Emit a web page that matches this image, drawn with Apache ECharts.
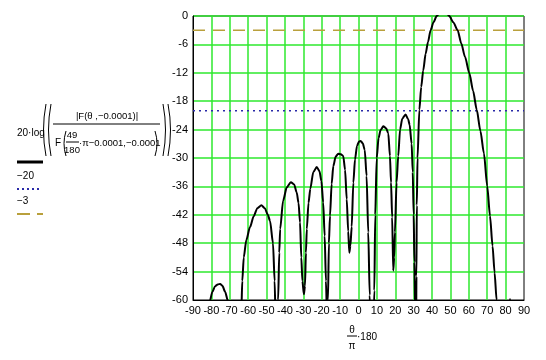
<!DOCTYPE html>
<html>
<head>
<meta charset="utf-8">
<script src="https://cdn.jsdelivr.net/npm/echarts@6/dist/echarts.min.js"></script>
<style>
html,body{margin:0;padding:0;background:#fff;}
#chart{width:546px;height:360px;}
</style>
</head>
<body>
<div id="chart"></div>
<script>
// Pattern curve: angle (deg) and level (dB)
var curveDeg = [
  -84, -81, -79.5, -78, -76.5, -75.2, -74, -72.5, -71, -68,
  -66, -63.7, -63.2, -62.4, -61, -59, -57, -55, -52.8, -51, -49.3, -48.1, -46.5, -45.6, -45, -44.4,
  -43.7, -43.1, -42.6, -41, -39, -36.8, -35, -33.6, -32.6, -31.8, -31.1, -30.5, -29.7,
  -29.1, -28.6, -28.1, -27.2, -26.2, -24.6, -22.7, -21.2, -20.2, -19.2, -18.4, -17.7, -17.1,
  -16.6, -16.1, -15.5, -14.6, -13.7, -12.4, -11, -9.6, -8.3, -7.3, -6.4, -5.6, -5,
  -4.4, -3.7, -2.8, -1.9, -0.8, 0.3, 1.2, 2.3, 3.4, 4.4, 5.3, 6.1, 6.9,
  7.8, 8.6, 9.1, 9.9, 10.9, 12, 13.5, 15, 16.2, 17.1, 17.7, 18.3, 18.9,
  19.4, 19.8, 20.7, 21.6, 22.6, 23.8, 25.6, 27, 27.8, 28.9, 29.5, 30, 30.4, 30.8, 31.1,
  31.3, 31.5, 31.7, 32.1, 33.1, 34.1, 35.2, 36.5, 37.8, 39.2, 40.8, 42.5, 44.5, 46, 47.5, 49.4,
  51.5, 53.9, 55.9, 57.9, 60.3, 62.3, 64.3, 66.3, 68.2, 70, 71.5, 72.9, 74, 75.1, 76.2,
  79.8, 82.4, 84.8
];
var curveDb = [
  -75, -60.5, -58.3, -57.1, -56.7, -56.6, -57, -58.3, -60.2, -75,
  -75, -62, -56, -51, -47.3, -44.6, -42.3, -40.6, -40, -40.6, -42, -43.3, -48, -56, -66, -66,
  -60, -50, -45, -39, -36.2, -35.1, -35.6, -37.3, -39.5, -43.6, -51, -56, -58.8,
  -57, -50, -45, -39.5, -36.5, -33, -31.9, -32.8, -34.8, -39.4, -46.5, -56, -64,
  -60, -48, -42.2, -35.5, -31.7, -29.7, -29.1, -29.2, -29.6, -32.5, -38.7, -45.5, -50,
  -48.5, -44.5, -35.2, -30.3, -27.4, -26.5, -26.4, -26.9, -28.3, -33.8, -45.7, -59, -72,
  -72, -58, -42, -30, -25.8, -24.1, -23.3, -23.7, -24.8, -29.6, -35.2, -42.5, -53.8,
  -51, -45.7, -35.2, -29.6, -24, -21.7, -20.8, -21.8, -23, -27, -33, -42, -52, -62, -72,
  -70, -55, -40, -30, -19.8, -15, -11.5, -8, -5.5, -3, -1.3, 0, 0.8, 1, 0.8, 0,
  -1.3, -3, -5.8, -8.6, -12.1, -15.8, -19.8, -24.3, -29, -35.9, -42.2, -48.6, -54.2, -60, -68,
  -70, -59.8, -70
];
var refLevels = [-20, -3];
var xTicks = {min: -90, max: 90, step: 10};
var yTicks = {min: -60, max: 0, step: 6};

var curveData = curveDeg.map(function (d, i) { return [d, curveDb[i]]; });
function hline(v) { return [[xTicks.min, v], [xTicks.max, v]]; }

var FONT = '"Liberation Sans", Arial, sans-serif';
function txt(t, x, y, size, align) {
  return {type: 'text', x: x, y: y, z: 10,
    style: {text: t, fill: '#000', font: (size || 10) + 'px ' + FONT,
      textAlign: align || 'left', textVerticalAlign: 'middle'}};
}
function ln(x1, y1, x2, y2, color, w, dash) {
  return {type: 'line', z: 10, shape: {x1: x1, y1: y1, x2: x2, y2: y2},
    style: {stroke: color, lineWidth: w, lineDash: dash || null}};
}
function paren(x, y1, y2, cx) {
  return {type: 'bezierCurve', z: 10,
    shape: {x1: x, y1: y1, x2: x, y2: y2, cpx1: cx, cpy1: (y1 + y2) / 2},
    style: {stroke: '#000', lineWidth: 1, fill: null}};
}

var chart = echarts.init(document.getElementById('chart'), null, {renderer: 'canvas'});
chart.setOption({
  animation: false,
  backgroundColor: '#fff',
  grid: {left: 193, top: 16, width: 331, height: 284, show: true,
    borderColor: '#000', borderWidth: 1, backgroundColor: 'transparent'},
  xAxis: {
    type: 'value', min: xTicks.min, max: xTicks.max, interval: xTicks.step,
    axisLine: {show: true, onZero: false, lineStyle: {color: '#000', width: 1}},
    axisTick: {show: false},
    axisLabel: {color: '#000', fontFamily: FONT, fontSize: 11, margin: 5},
    splitLine: {show: true, showMinLine: false, showMaxLine: false,
      lineStyle: {color: '#2ee82e', width: 1.5}}
  },
  yAxis: {
    type: 'value', min: yTicks.min, max: yTicks.max, interval: yTicks.step,
    axisLine: {show: true, onZero: false, lineStyle: {color: '#000', width: 1}},
    axisTick: {show: false},
    axisLabel: {color: '#000', fontFamily: FONT, fontSize: 11, margin: 5},
    splitLine: {show: true, showMinLine: false, showMaxLine: true,
      lineStyle: {color: '#2ee82e', width: 1.5}}
  },
  series: [
    {type: 'line', name: 'pattern', data: curveData, showSymbol: false, clip: true,
      smooth: 0.25, smoothMonotone: 'x',
      lineStyle: {color: '#000', width: 2}, z: 5},
    {type: 'line', name: String(refLevels[0]), data: hline(refLevels[0]), showSymbol: false,
      lineStyle: {color: '#2a2aa8', width: 1.5, type: [2, 4]}, z: 4},
    {type: 'line', name: String(refLevels[1]), data: hline(refLevels[1]), showSymbol: false,
      lineStyle: {color: '#b9a03c', width: 1.5, type: [12, 8]}, z: 4}
  ],
  graphic: [
    // y-axis expression
    txt('20·log', 17, 133, 10),
    paren(46, 104, 156, 41), paren(51, 104, 156, 46),
    txt('|F(θ ,−0.0001)|', 107, 116, 9.5, 'center'),
    ln(53, 124, 160, 124, '#000', 1),
    txt('F', 55, 143, 10),
    paren(66, 131, 156, 62),
    txt('49', 72, 135, 9.5, 'center'),
    ln(66, 142, 79, 142, '#000', 1),
    txt('180', 72, 150, 9.5, 'center'),
    txt('·π−0.0001,−0.0001', 79, 143, 9.5),
    paren(155, 131, 156, 159),
    paren(163, 104, 156, 168), paren(168, 104, 156, 173),
    // legend
    ln(17, 162, 43, 162, '#000', 3),
    txt('−20', 17, 176, 10),
    ln(17, 189, 41, 189, '#2a2aa8', 2, [2, 3]),
    txt('−3', 17, 201, 10),
    ln(17, 214, 43, 214, '#b9a03c', 2, [13, 7]),
    // x-axis title
    txt('θ', 352, 330, 10, 'center'),
    ln(347, 336, 357, 336, '#000', 1),
    txt('π', 352, 346, 10, 'center'),
    txt('·180', 357, 337, 10)
  ]
});
</script>
</body>
</html>
